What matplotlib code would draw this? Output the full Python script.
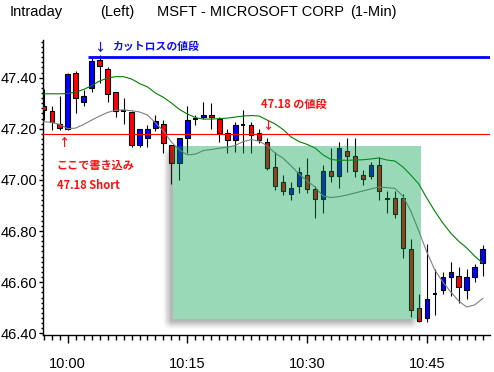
import numpy as np
import matplotlib
matplotlib.use("Agg")
import matplotlib.pyplot as plt
from matplotlib.patches import Rectangle

# minutes after 10:00 (1-min bars)
minutes = list(range(-3, 53))

opens = [47.29, 47.27, 47.22, 47.20, 47.42, 47.305, 47.36, 47.47, 47.435, 47.345,
         47.27, 47.265, 47.135, 47.165, 47.205, 47.22, 47.135, 47.065, 47.165, 47.24,
         47.245, 47.255, 47.24, 47.185, 47.155, 47.215, 47.215, 47.185, 47.15, 47.05,
         46.99, 46.945, 46.975, 47.02, 46.965, 46.925, 47.035, 47.015, 47.115, 47.095,
         47.02, 47.015, 47.06, 46.925, 46.93, 46.93, 46.73, 46.50, 46.46, 46.555,
         46.57, 46.62, 46.625, 46.57, 46.62, 46.675]
highs = [47.355, 47.29, 47.33, 47.42, 47.425, 47.35, 47.48, 47.49, 47.44, 47.345,
         47.32, 47.27, 47.20, 47.215, 47.255, 47.235, 47.135, 47.165, 47.29, 47.255,
         47.305, 47.30, 47.245, 47.20, 47.225, 47.275, 47.225, 47.20, 47.165, 47.11,
         47.02, 46.99, 47.05, 47.085, 46.975, 47.06, 47.125, 47.15, 47.165, 47.165,
         47.04, 47.07, 47.09, 46.955, 46.955, 46.945, 46.77, 46.555, 46.75, 46.65,
         46.64, 46.68, 46.66, 46.65, 46.67, 46.745]
lows = [47.235, 47.195, 47.195, 47.195, 47.26, 47.29, 47.345, 47.38, 47.305, 47.245,
        47.22, 47.13, 47.13, 47.13, 47.19, 47.105, 46.985, 47.00, 47.105, 47.215,
        47.24, 47.20, 47.15, 47.105, 47.11, 47.105, 47.105, 47.145, 47.04, 46.96,
        46.94, 46.92, 46.95, 46.95, 46.85, 46.87, 46.99, 46.97, 47.03, 47.01,
        46.98, 47.005, 46.92, 46.87, 46.85, 46.695, 46.465, 46.445, 46.445, 46.47,
        46.555, 46.545, 46.52, 46.535, 46.60, 46.625]
closes = [47.275, 47.225, 47.205, 47.415, 47.32, 47.33, 47.465, 47.445, 47.335, 47.27,
          47.27, 47.135, 47.20, 47.20, 47.23, 47.145, 47.065, 47.165, 47.235, 47.24,
          47.255, 47.245, 47.185, 47.155, 47.215, 47.215, 47.175, 47.155, 47.045, 46.975,
          46.955, 46.97, 47.03, 46.965, 46.925, 47.035, 47.015, 47.125, 47.095, 47.035,
          47.005, 47.06, 46.955, 46.93, 46.865, 46.735, 46.49, 46.45, 46.535, 46.555,
          46.62, 46.64, 46.58, 46.62, 46.66, 46.73]

ma_long = [47.337, 47.337, 47.337, 47.338, 47.344, 47.354, 47.369, 47.387, 47.399, 47.404,
           47.404, 47.395, 47.377, 47.364, 47.340, 47.323, 47.301, 47.276, 47.258, 47.244,
           47.238, 47.238, 47.240, 47.242, 47.246, 47.250, 47.252, 47.250, 47.234, 47.219,
           47.197, 47.168, 47.150, 47.139, 47.125, 47.098, 47.080, 47.077, 47.077, 47.078,
           47.079, 47.082, 47.086, 47.078, 47.074, 47.051, 47.019, 46.984, 46.929, 46.878,
           46.832, 46.792, 46.760, 46.734, 46.702, 46.675]
ma_short = [47.228, 47.225, 47.217, 47.200, 47.203, 47.217, 47.234, 47.250, 47.264, 47.273,
            47.274, 47.271, 47.266, 47.254, 47.223, 47.191, 47.148, 47.117, 47.098, 47.101,
            47.115, 47.119, 47.124, 47.128, 47.135, 47.150, 47.158, 47.152, 47.133, 47.105,
            47.085, 47.055, 47.023, 46.996, 46.972, 46.937, 46.931, 46.935, 46.941, 46.949,
            46.957, 46.965, 46.972, 46.970, 46.967, 46.937, 46.878, 46.800, 46.718, 46.648,
            46.601, 46.562, 46.526, 46.503, 46.511, 46.536]

tick_minutes = [0, 15, 30, 45]
tick_labels = ["10:00", "10:15", "10:30", "10:45"]

cut_loss = 47.48
entry = 47.18
zone_x0, zone_x1 = 13.23, 44.24
zone_lo, zone_hi = 46.455, 47.134

W, H = 494, 372
fig = plt.figure(figsize=(W / 100, H / 100), dpi=100)
ax_l, ax_r, ax_b, ax_t = 43, 490, 335, 40
ax = fig.add_axes([ax_l / W, 1 - ax_b / H, (ax_r - ax_l) / W, (ax_b - ax_t) / H])
xlim = (-3.095, 52.92)
ylim = (46.3933, 47.5475)
ax.set_xlim(*xlim)
ax.set_ylim(*ylim)
px = (xlim[1] - xlim[0]) / (ax_r - ax_l)
py = (ylim[1] - ylim[0]) / (ax_b - ax_t)

label_font = ["Liberation Sans", "DejaVu Sans"]
jp_font = ["Noto Sans CJK JP", "DejaVu Sans"]

# candles
bw = 0.56
for m, o, h, l, c in zip(minutes, opens, highs, lows, closes):
    ax.vlines(m, l, h, color="k", lw=0.8, zorder=2)
    if abs(c - o) < 1e-9:
        ax.hlines(o, m - bw / 2, m + bw / 2, color="k", lw=1.4, zorder=3)
    else:
        col = "#0000ff" if c > o else "#ff0000"
        ax.add_patch(Rectangle((m - bw / 2, min(o, c)), bw, abs(c - o),
                               fc=col, ec="k", lw=0.8, zorder=3))

ax.plot(minutes, ma_long, color="#008000", lw=0.8, zorder=4)
ax.plot(minutes, ma_short, color="#808080", lw=0.8, zorder=4)

ax.axhline(entry, color="#ff0000", lw=0.8, zorder=4)
ax.hlines(cut_loss, 2.54, xlim[1], color="#0000ff", lw=2, zorder=4)

# drop shadow of the zone (left and bottom only)
sx0, sx1 = zone_x0 - 6 * px, zone_x1 - 6 * px
sy0, sy1 = zone_lo - 6 * py, zone_hi - 6 * py
gx = np.linspace(zone_x0 - 14 * px, zone_x1, 600)
gy = np.linspace(zone_lo - 14 * py, zone_hi, 600)
XX, YY = np.meshgrid(gx, gy)
def ramp(v, a, b):
    return np.clip((v - a) / (b - a), 0, 1)
blur = 4
alpha = (ramp(XX, sx0 - blur * px, sx0 + blur * px)
         * (1 - ramp(XX, sx1 - blur * px, sx1 + blur * px))
         * ramp(YY, sy0 - blur * py, sy0 + blur * py)
         * (1 - ramp(YY, sy1 - blur * py, sy1 + blur * py))) * 0.38
alpha[(XX >= zone_x0) & (YY >= zone_lo)] = 0
rgba = np.zeros(XX.shape + (4,))
rgba[..., :3] = 0.25
rgba[..., 3] = alpha
ax.imshow(rgba, extent=(gx[0], gx[-1], gy[0], gy[-1]), origin="lower",
          aspect="auto", interpolation="nearest", zorder=5)

ax.add_patch(Rectangle((zone_x0, zone_lo), zone_x1 - zone_x0, zone_hi - zone_lo,
                       fc=(0.0, 0.63, 0.31), alpha=0.4, lw=0, zorder=6))

# annotations
ax.text(4.05, 47.520, "↓", color="#1010ff", fontsize=8, fontweight="bold",
        family=jp_font, ha="center", va="center", zorder=7)
ax.text(5.5, 47.520, "カットロスの値段", color="#1010ff", fontsize=7.8,
        fontweight="bold", family=jp_font, ha="left", va="center", zorder=7)
ax.text(24.24, 47.295, "47.18 の値段", color="#ff1010", fontsize=8,
        fontweight="bold", family=jp_font, ha="left", va="center", zorder=7)
ax.text(25.0, 47.215, "↓", color="#ff1010", fontsize=8, fontweight="bold",
        family=jp_font, ha="center", va="center", zorder=7)
ax.text(-0.53, 47.145, "↑", color="#ff1010", fontsize=8, fontweight="bold",
        family=jp_font, ha="center", va="center", zorder=7)
ax.text(-1.43, 47.058, "ここで書き込み", color="#ff1010", fontsize=8,
        fontweight="bold", family=jp_font, ha="left", va="center", zorder=7)
ax.text(-1.34, 46.978, "47.18 Short", color="#ff1010", fontsize=8,
        fontweight="bold", family=jp_font, ha="left", va="center", zorder=7)

# axes styling
for s in ["top", "right"]:
    ax.spines[s].set_visible(False)
ax.spines["left"].set_linewidth(1)
ax.spines["bottom"].set_linewidth(1)
ax.set_yticks(np.arange(46.40, 47.41, 0.20))
ax.set_yticklabels(["%.2f" % v for v in np.arange(46.40, 47.41, 0.20)])
ax.set_yticks(np.arange(46.40, 47.55, 0.02), minor=True)
ax.set_xticks(tick_minutes)
ax.set_xticklabels(tick_labels)
ax.set_xticks(minutes, minor=True)
ax.tick_params(axis="y", which="major", length=3, width=1, pad=1, labelsize=10.5)
ax.tick_params(axis="y", which="minor", length=1.6, width=1)
ax.tick_params(axis="x", which="major", length=6, width=1, pad=10, labelsize=10.5)
ax.tick_params(axis="x", which="minor", length=3.5, width=1)
for lab in ax.get_xticklabels() + ax.get_yticklabels():
    lab.set_family(label_font)

# header
ty = 1 - 15.7 / H
fig.text(10 / W, ty, "Intraday", fontsize=10.5, family=label_font, va="baseline")
fig.text(100 / W, ty, "(Left)", fontsize=10.5, family=label_font, va="baseline")
fig.text(157 / W, ty, "MSFT - MICROSOFT CORP", fontsize=10.5, family=label_font, va="baseline")
fig.text(350 / W, ty, "(1-Min)", fontsize=10.5, family=label_font, va="baseline")

fig.savefig("out.png", dpi=100)
